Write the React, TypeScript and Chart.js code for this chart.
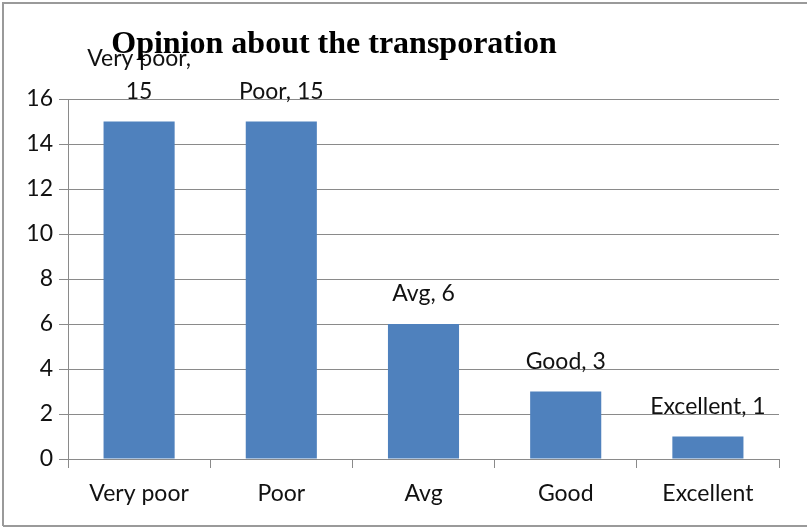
import React, { useEffect, useRef } from "react";
import { Chart, registerables } from "chart.js";

Chart.register(...registerables);

const categories = ["Very poor", "Poor", "Avg", "Good", "Excellent"];
const counts = [15, 15, 6, 3, 1];
const yTicks = [0, 2, 4, 6, 8, 10, 12, 14, 16];
const titleText = "Opinion about the transporation";

const FONT = "Lato, 'Open Sans', sans-serif";
const FSIZE = 23;
const GRID = "#8a8a8a";

const decorPlugin = {
  id: "decor",
  afterDatasetsDraw(chart: any) {
    const ctx = chart.ctx;
    const meta = chart.getDatasetMeta(0);
    ctx.save();
    ctx.font = `${FSIZE}px ${FONT}`;
    ctx.fillStyle = "#111";
    ctx.textAlign = "center";
    ctx.textBaseline = "middle";
    meta.data.forEach((bar: any, i: number) => {
      const text = `${categories[i]}, ${counts[i]}`;
      const w = ctx.measureText(text).width;
      const y = bar.y - 30;
      if (w > 128) {
        ctx.fillText(`${categories[i]},`, bar.x, y - 33);
        ctx.fillText(`${counts[i]}`, bar.x, y);
      } else {
        ctx.fillText(text, bar.x, y);
      }
    });
    ctx.restore();
  },
  afterDraw(chart: any) {
    const ctx = chart.ctx;
    ctx.save();
    ctx.font = `bold 32px 'Liberation Serif', 'Times New Roman', serif`;
    ctx.fillStyle = "#000";
    ctx.textAlign = "center";
    ctx.textBaseline = "alphabetic";
    ctx.fillText(titleText, 334, 53);
    ctx.strokeStyle = "#9a9a9a";
    ctx.lineWidth = 2;
    ctx.beginPath();
    ctx.moveTo(3, 526);
    ctx.lineTo(3, 3);
    ctx.lineTo(chart.width + 5, 3);
    ctx.moveTo(3, 526);
    ctx.lineTo(chart.width + 5, 526);
    ctx.stroke();
    ctx.restore();
  },
};

export default function App() {
  const ref = useRef<HTMLCanvasElement>(null);
  useEffect(() => {
    document.body.style.margin = "0";
    const chart = new Chart(ref.current!, {
      type: "bar",
      data: {
        labels: categories,
        datasets: [
          {
            data: counts,
            backgroundColor: "#4f81bd",
            barPercentage: 1,
            categoryPercentage: 0.5,
          },
        ],
      },
      options: {
        animation: false,
        responsive: false,
        layout: { padding: { left: 0, right: 28, top: 99, bottom: 0 } },
        plugins: { legend: { display: false }, tooltip: { enabled: false }, title: { display: false } },
        scales: {
          x: {
            offset: true,
            grid: {
              offset: true,
              drawOnChartArea: false,
              drawTicks: true,
              tickLength: 9,
              color: GRID,
            },
            border: { color: GRID, width: 1 },
            ticks: { font: { family: FONT, size: FSIZE }, color: "#111", padding: 12 },
            afterFit(scale: any) {
              scale.height = 70;
            },
          },
          y: {
            min: 0,
            max: 16,
            afterBuildTicks(scale: any) {
              scale.ticks = yTicks.map((v) => ({ value: v }));
            },
            grid: { color: GRID, tickLength: 9 },
            border: { color: GRID, width: 1 },
            ticks: { font: { family: FONT, size: FSIZE }, color: "#111", padding: 6 },
            afterFit(scale: any) {
              scale.width = 68;
            },
          },
        },
      },
      plugins: [decorPlugin],
    });
    return () => chart.destroy();
  }, []);
  return <canvas ref={ref} width={807} height={529} style={{ display: "block" }} />;
}
